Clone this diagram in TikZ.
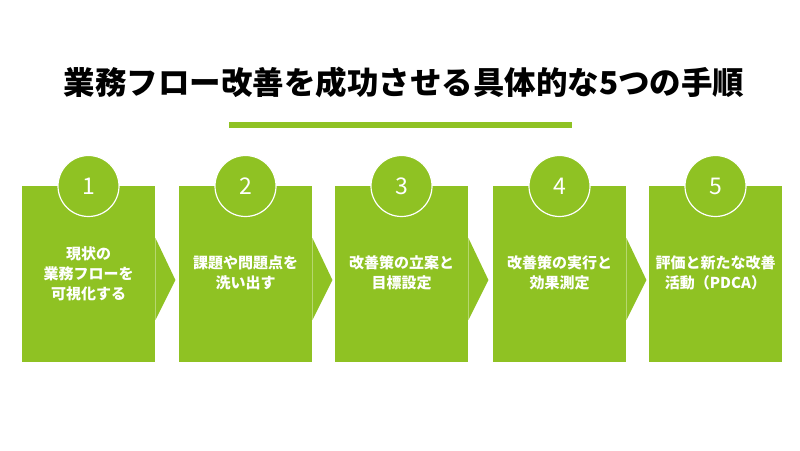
\documentclass[tikz,border=0pt]{standalone}
\usepackage{fontspec}
\setmainfont{Noto Sans CJK JP}
\newfontfamily\cjk{Noto Sans CJK JP}
\definecolor{lg}{RGB}{143,194,35}
\tikzset{
  stepbox/.style={fill=lg, draw=none, minimum width=133pt, minimum height=176pt, inner sep=0pt, anchor=north west},
  numcirc/.style={circle, fill=lg, draw=white, line width=1.2pt, minimum size=61pt, inner sep=0pt, text=white, font=\cjk\fontsize{23}{23}\selectfont},
  steptext/.style={text=white, align=center, font=\cjk\bfseries\fontsize{15}{20}\selectfont},
  chev/.style={fill=lg, draw=none}
}
\begin{document}
\begin{tikzpicture}[x=1pt,y=1pt]
\useasboundingbox[fill=white] (0,0) rectangle (800,450);
\node[font=\cjk\bfseries\fontsize{31.5}{32}\selectfont, text=black] (title) at (404,367) {業務フロー改善を成功させる具体的な5つの手順};
\fill[lg] (229,322) rectangle (572,328);
\coordinate (line) at (400,325);
\foreach \i/\x in {1/22,2/179,3/335,4/493,5/649}{
  \node[stepbox] (b\i) at (\x,264) {};
  \node[numcirc] (c\i) at ([xshift=66.5pt]b\i.north west) {\i};
}
\foreach \i/\j in {1/2,2/3,3/4,4/5}{
  \fill[chev] (b\i.east |- 0,212) -- ([xshift=20pt]b\i.east |- 0,170) -- (b\i.east |- 0,130) -- cycle;
}
\node[steptext] (t1) at (88.5,176) {現状の\\業務フローを\\可視化する};
\node[steptext] (t2) at (245.5,177) {課題や問題点を\\洗い出す};
\node[steptext] (t3) at (401.5,177) {改善策の立案と\\目標設定};
\node[steptext] (t4) at (559.5,177) {改善策の実行と\\効果測定};
\node[steptext] (t5) at (715.5,177) {評価と新たな改善\\活動（PDCA）};
\end{tikzpicture}
\end{document}
